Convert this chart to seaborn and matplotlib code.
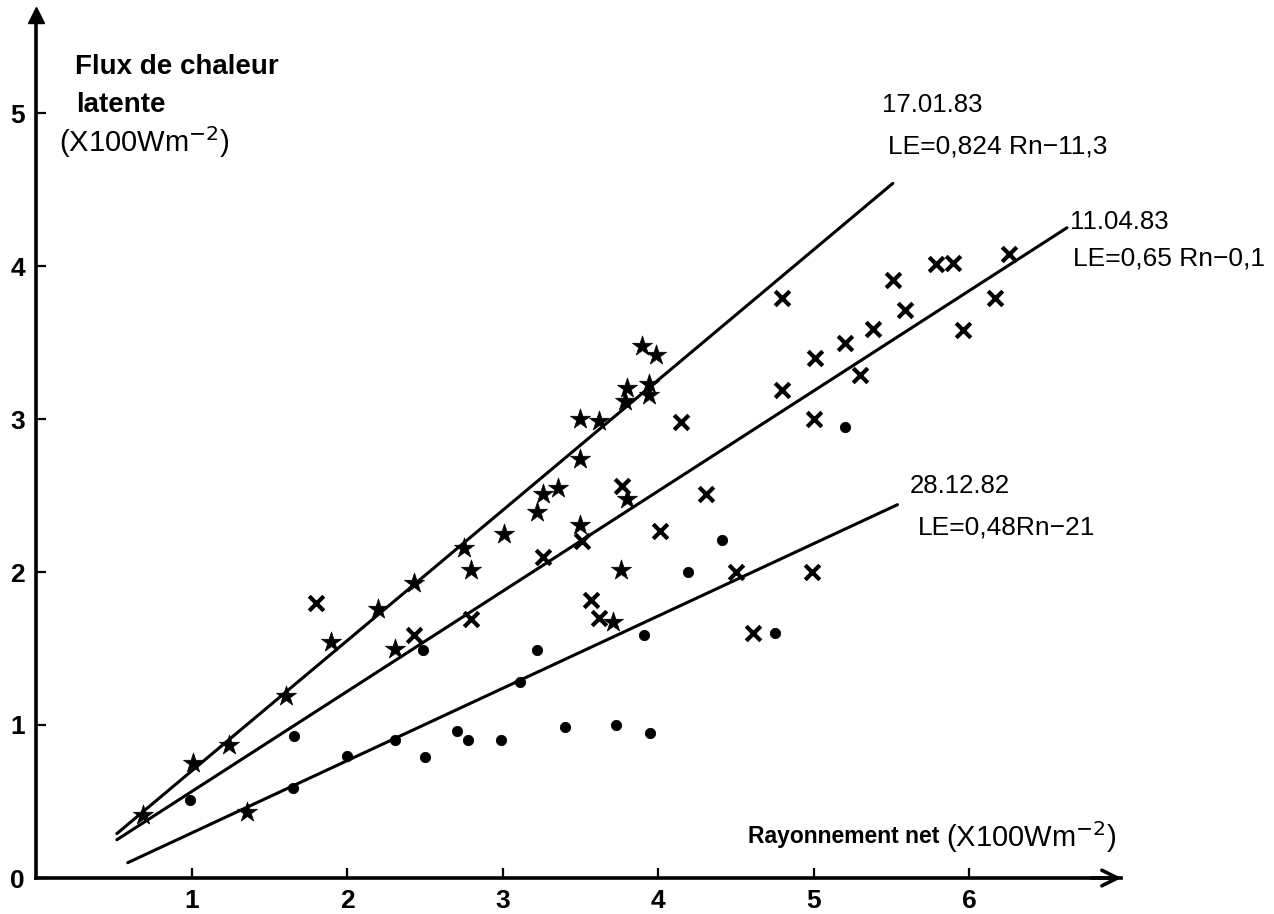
import pandas as pd
import seaborn as sns
import matplotlib.pyplot as plt

# 17.01.83 (stars)
x_170183 = [0.69, 1.01, 1.24, 1.61, 1.90, 2.20, 2.43, 2.75, 2.80, 3.01, 3.22, 3.26, 3.36, 3.50,
            3.50, 3.62, 3.80, 3.79, 3.94, 3.94, 3.90, 3.99, 3.80, 3.50, 3.76, 3.71, 2.31, 1.36]
y_170183 = [0.41, 0.75, 0.87, 1.19, 1.54, 1.76, 1.93, 2.16, 2.01, 2.25, 2.39, 2.51, 2.55, 2.74,
            3.00, 2.99, 3.20, 3.12, 3.23, 3.16, 3.48, 3.42, 2.48, 2.31, 2.01, 1.67, 1.50, 0.43]

# 11.04.83 (crosses)
x_110483 = [1.80, 2.43, 2.80, 3.26, 3.51, 3.77, 3.57, 3.62, 4.01, 4.15, 4.31, 4.50, 4.61, 4.99,
            4.80, 4.80, 5.00, 5.01, 5.20, 5.30, 5.38, 5.51, 5.59, 5.79, 5.90, 5.96, 6.17, 6.26]
y_110483 = [1.80, 1.59, 1.69, 2.10, 2.20, 2.56, 1.82, 1.70, 2.27, 2.98, 2.51, 2.00, 1.60, 2.00,
            3.19, 3.79, 3.00, 3.40, 3.50, 3.29, 3.59, 3.91, 3.71, 4.01, 4.02, 3.58, 3.79, 4.08]

# 28.12.82 (dots)
x_281282 = [0.99, 1.65, 1.66, 2.00, 2.31, 2.49, 2.50, 2.71, 2.78, 2.99, 3.11, 3.22, 3.40, 3.73,
            3.95, 3.91, 4.19, 4.41, 4.75, 5.20]
y_281282 = [0.51, 0.59, 0.93, 0.80, 0.90, 1.49, 0.79, 0.96, 0.90, 0.90, 1.28, 1.49, 0.99, 1.00,
            0.95, 1.59, 2.00, 2.21, 1.60, 2.95]

# regression lines (end points)
line_x_170183 = [0.52, 5.51]
line_y_170183 = [0.29, 4.54]
line_x_110483 = [0.52, 6.63]
line_y_110483 = [0.25, 4.25]
line_x_281282 = [0.59, 5.54]
line_y_281282 = [0.10, 2.44]

sns.set_style('ticks')
plt.rcParams['font.family'] = ['Liberation Sans', 'DejaVu Sans']
plt.rcParams['text.color'] = 'black'
plt.rcParams['xtick.color'] = 'black'
plt.rcParams['ytick.color'] = 'black'
plt.rcParams['axes.edgecolor'] = 'black'

fig = plt.figure(figsize=(12.74, 9.14), dpi=100)
ax = fig.add_axes([36 / 1274, 36 / 914, 1085 / 1274, 863 / 914])

sns.lineplot(x=line_x_170183, y=line_y_170183, color='black', lw=2.2, ax=ax)
sns.lineplot(x=line_x_110483, y=line_y_110483, color='black', lw=2.2, ax=ax)
sns.lineplot(x=line_x_281282, y=line_y_281282, color='black', lw=2.2, ax=ax)

sns.scatterplot(x=x_170183, y=y_170183, marker='*', s=230, color='black', edgecolor='black',
                linewidth=0.5, ax=ax, zorder=3)
sns.scatterplot(x=x_110483, y=y_110483, marker='x', s=110, color='black', linewidth=3,
                ax=ax, zorder=3)
sns.scatterplot(x=x_281282, y=y_281282, marker='o', s=55, color='black', edgecolor='black',
                ax=ax, zorder=3)

ax.set_xlim(0, 1085 / 155.5)
ax.set_ylim(0, 863 / 153)
ax.set_xticks([1, 2, 3, 4, 5, 6])
ax.set_yticks([0, 1, 2, 3, 4, 5])
ax.tick_params(direction='in', length=7, width=1.6, labelsize=19, pad=8, labelcolor='black')
for lab in ax.get_xticklabels() + ax.get_yticklabels():
    lab.set_fontweight('bold')

sns.despine(ax=ax)
ax.spines['left'].set_linewidth(2.6)
ax.spines['bottom'].set_linewidth(2.6)
ax.plot(0, 1, '^', color='black', ms=12, transform=ax.transAxes, clip_on=False)
ax.annotate('', xy=(1.003, 0), xytext=(0.97, 0), xycoords='axes fraction',
            arrowprops=dict(arrowstyle='->', lw=2.6, color='black', mutation_scale=28))

# axis titles
ax.text(0.25, 5.30, 'Flux de chaleur', fontsize=20, fontweight='bold', va='center')
ax.text(0.26, 5.05, 'latente', fontsize=20, fontweight='bold', va='center')
ax.text(0.15, 4.81, '(X100Wm$^{-2}$)', fontsize=21, va='center')
ax.text(5.81, 0.27, 'Rayonnement net', fontsize=16.5, fontweight='bold', va='center', ha='right')
ax.text(5.85, 0.27, '(X100Wm$^{-2}$)', fontsize=21, va='center', ha='left')

# equations
ax.text(5.44, 5.05, '17.01.83', fontsize=18.5, va='center')
ax.text(5.48, 4.78, 'LE=0,824 Rn\u221211,3', fontsize=19, va='center')
ax.text(6.65, 4.29, '11.04.83', fontsize=18.5, va='center')
ax.text(6.67, 4.05, 'LE=0,65 Rn\u22120,1', fontsize=19, va='center')
ax.text(5.62, 2.56, '28.12.82', fontsize=18.5, va='center')
ax.text(5.67, 2.29, 'LE=0,48Rn\u221221', fontsize=19, va='center')

fig.savefig('out.png', dpi=100)
